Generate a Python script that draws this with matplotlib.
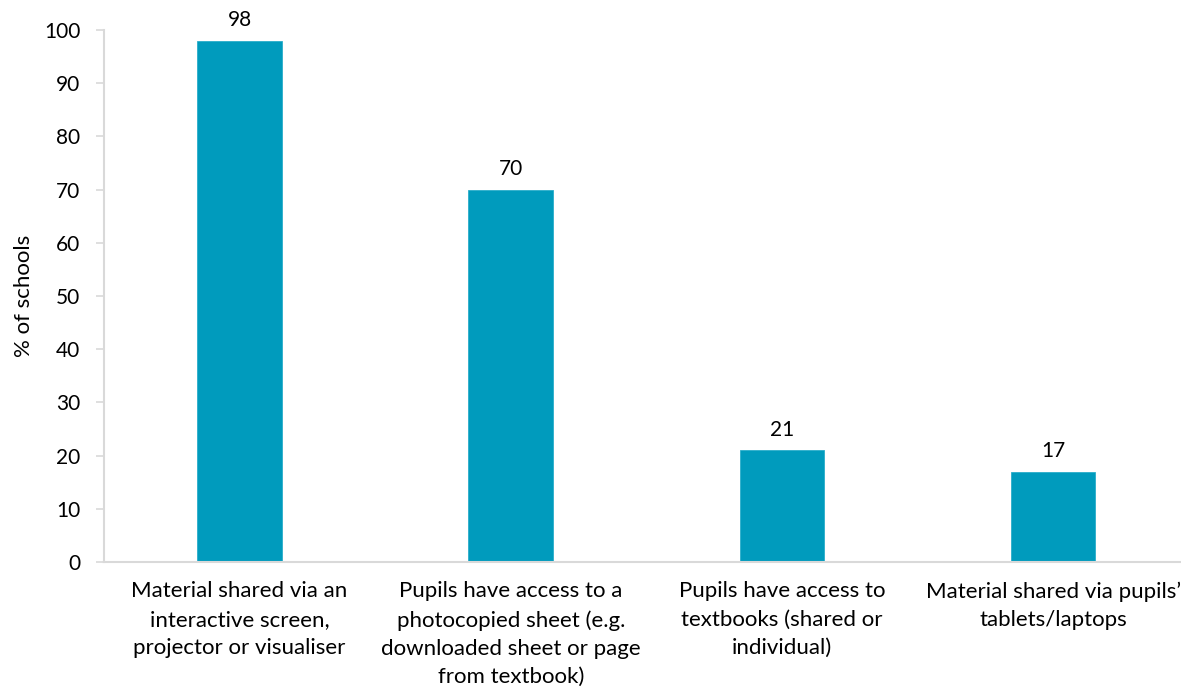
import matplotlib.pyplot as plt

plt.rcParams['font.family'] = ['Lato', 'DejaVu Sans']

categories = [
    'Material shared via an\ninteractive screen,\nprojector or visualiser',
    'Pupils have access to a\nphotocopied sheet (e.g.\ndownloaded sheet or page\nfrom textbook)',
    'Pupils have access to\ntextbooks (shared or\nindividual)',
    'Material shared via pupils\u2019\ntablets/laptops',
]
values = [98, 70, 21, 17]

bar_color = '#009BBD'
grid_grey = '#D9D9D9'

fig = plt.figure(figsize=(11.81, 6.90), dpi=100)
ax = fig.add_axes([0.088, 0.1855, 0.9185, 0.771])

x = range(len(values))
bars = ax.bar(x, values, width=0.312, color=bar_color, edgecolor='#2AAECB', linewidth=0.6)

# value labels above each bar
for b, v in zip(bars, values):
    ax.annotate(str(v), (b.get_x() + b.get_width() / 2, v),
                xytext=(0, 7.5), textcoords='offset points',
                ha='center', va='bottom', fontsize=15, color='black')

ax.set_xlim(-0.5, len(values) - 0.5)
ax.set_ylim(0, 100)
ax.set_yticks(range(0, 101, 10))
ax.set_xticks(list(x))
ax.set_xticklabels(categories, fontsize=16, linespacing=1.52)
ax.tick_params(axis='x', length=0, pad=14)
ax.tick_params(axis='y', length=6, color=grid_grey, width=1.2, labelsize=15, pad=11)

for side in ['top', 'right']:
    ax.spines[side].set_visible(False)
for side in ['left', 'bottom']:
    ax.spines[side].set_color(grid_grey)
    ax.spines[side].set_linewidth(1.5)

ax.set_ylabel('% of schools', fontsize=16, labelpad=7)

fig.savefig('out.png', dpi=100)
